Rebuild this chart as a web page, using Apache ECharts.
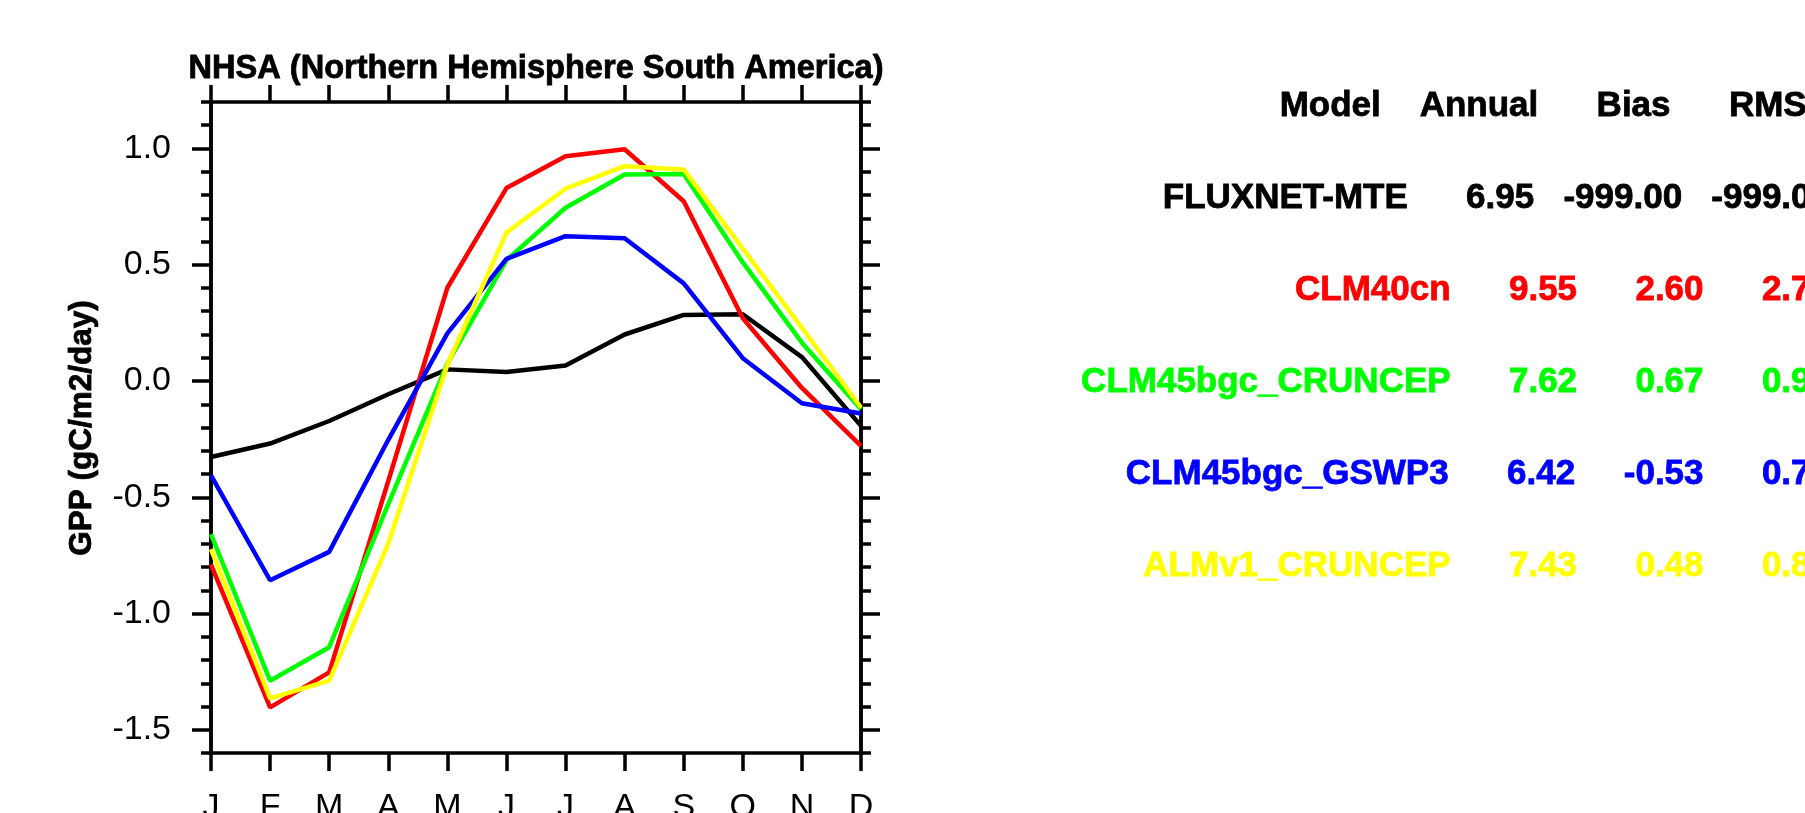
<!DOCTYPE html>
<html>
<head>
<meta charset="utf-8">
<title>NHSA GPP</title>
<script src="https://cdn.jsdelivr.net/npm/echarts@6/dist/echarts.min.js"></script>
<style>
  html, body { margin: 0; padding: 0; background: #fff; }
  #chart { width: 1805px; height: 813px; }
</style>
</head>
<body>
<div id="chart"></div>
<script>
// monthly GPP anomaly, gC/m2/day
const months = ['J', 'F', 'M', 'A', 'M', 'J', 'J', 'A', 'S', 'O', 'N', 'D']
const fluxnetMte = [-0.327, -0.269, -0.172, -0.057, 0.05, 0.039, 0.067, 0.2, 0.284, 0.287, 0.103, -0.193]
const clm40cn = [-0.79, -1.404, -1.253, -0.43, 0.401, 0.83, 0.967, 0.997, 0.773, 0.27, -0.03, -0.279]
const clm45Cruncep = [-0.659, -1.289, -1.145, -0.53, 0.075, 0.52, 0.745, 0.888, 0.89, 0.51, 0.165, -0.122]
const clm45Gswp3 = [-0.406, -0.857, -0.735, -0.253, 0.205, 0.525, 0.623, 0.614, 0.42, 0.098, -0.096, -0.14]
const almCruncep = [-0.723, -1.365, -1.289, -0.7, 0.07, 0.638, 0.827, 0.924, 0.91, 0.569, 0.229, -0.114]

const yTicks = [-1.5, -1.0, -0.5, 0.0, 0.5, 1.0]

// statistics table
const modelNames = ['FLUXNET-MTE', 'CLM40cn', 'CLM45bgc_CRUNCEP', 'CLM45bgc_GSWP3', 'ALMv1_CRUNCEP']
const annualVals = [6.95, 9.55, 7.62, 6.42, 7.43]
const biasVals = [-999.00, 2.60, 0.67, -0.53, 0.48]
const rmseVals = [-999.00, 2.75, 0.93, 0.71, 0.82]
const tableHeader = ['Model', 'Annual', 'Bias', 'RMSE']

const seriesNames = modelNames
const seriesData = [fluxnetMte, clm40cn, clm45Cruncep, clm45Gswp3, almCruncep]
const colors = ['#000000', '#ff0000', '#00ff00', '#0000ff', '#ffff00']

const FONT = '"Liberation Sans", Arial, Helvetica, sans-serif'

const chart = echarts.init(document.getElementById('chart'))

// each row is one string, fields padded like %10.2f, right justified
const pad = (s) => String(s).padStart(10, ' ')
const rowText = (i) => modelNames[i] + pad(annualVals[i].toFixed(2)) + pad(biasVals[i].toFixed(2)) + pad(rmseVals[i].toFixed(2))
const headText = tableHeader[0] + tableHeader.slice(1).map(pad).join('')

const tableX = 1830
const tableTop = 106.5
const rowStep = 92

const boldText = (text, x, y, color, size, align) => ({
  text, x, y,
  fill: color,
  stroke: color, lineWidth: 0.8,
  fontSize: size, fontWeight: 'bold', fontFamily: FONT,
  align, verticalAlign: 'middle'
})

const graphics = [
  {
    type: 'text',
    style: boldText('NHSA (Northern Hemisphere South America)', 536, 69, '#000', 32.6, 'center')
  },
  {
    type: 'text',
    x: 82, y: 428,
    rotation: Math.PI / 2,
    style: boldText('GPP (gC/m2/day)', 0, 0, '#000', 31.5, 'center')
  },
  {
    type: 'text',
    style: boldText(headText, tableX, tableTop, '#000', 35, 'right')
  }
]

modelNames.forEach((name, i) => {
  graphics.push({
    type: 'text',
    style: boldText(rowText(i), tableX, tableTop + rowStep * (i + 1), colors[i], 35, 'right')
  })
})

const lineStyle = { color: '#000', width: 3.5 }

const minorAxis = (pos) => ({
  type: 'value', position: pos, min: -1.6, max: 1.2, interval: 0.1,
  axisLine: { show: true, onZero: false, lineStyle },
  axisTick: { show: true, inside: false, length: 10, lineStyle },
  axisLabel: { show: false },
  splitLine: { show: false }
})

const majorAxis = (pos, showLabel) => ({
  type: 'value', position: pos, min: -1.6, max: 1.2,
  axisLine: { show: true, onZero: false, lineStyle },
  axisTick: { show: true, inside: false, length: 19, lineStyle, customValues: yTicks },
  axisLabel: {
    show: showLabel, customValues: yTicks, margin: 40,
    color: '#000', fontSize: 34, fontFamily: FONT,
    formatter: (v) => Number(v).toFixed(1)
  },
  splitLine: { show: false }
})

const option = {
  backgroundColor: '#fff',
  animation: false,
  graphic: graphics,
  grid: { left: 211, right: 944, top: 102, bottom: 60, containLabel: false, outerBoundsMode: 'none' },
  xAxis: [
    {
      type: 'category', data: months, boundaryGap: false, position: 'bottom',
      axisLine: { show: true, onZero: false, lineStyle },
      axisTick: { show: true, inside: false, length: 18, interval: 0, lineStyle },
      axisLabel: { show: true, interval: 0, margin: 38, color: '#000', fontSize: 34, fontFamily: FONT },
      splitLine: { show: false }
    },
    {
      type: 'category', data: months, boundaryGap: false, position: 'top',
      axisLine: { show: true, onZero: false, lineStyle },
      axisTick: { show: true, inside: false, length: 17, interval: 0, lineStyle },
      axisLabel: { show: false },
      splitLine: { show: false }
    }
  ],
  yAxis: [
    minorAxis('left'),
    majorAxis('left', true),
    minorAxis('right'),
    majorAxis('right', false)
  ],
  series: seriesData.map((d, i) => ({
    name: seriesNames[i],
    type: 'line',
    data: d,
    xAxisIndex: 0,
    yAxisIndex: 0,
    symbol: 'none',
    smooth: false,
    lineStyle: { color: colors[i], width: 4.5 },
    z: 2 + i
  }))
}

chart.setOption(option)
</script>
</body>
</html>
